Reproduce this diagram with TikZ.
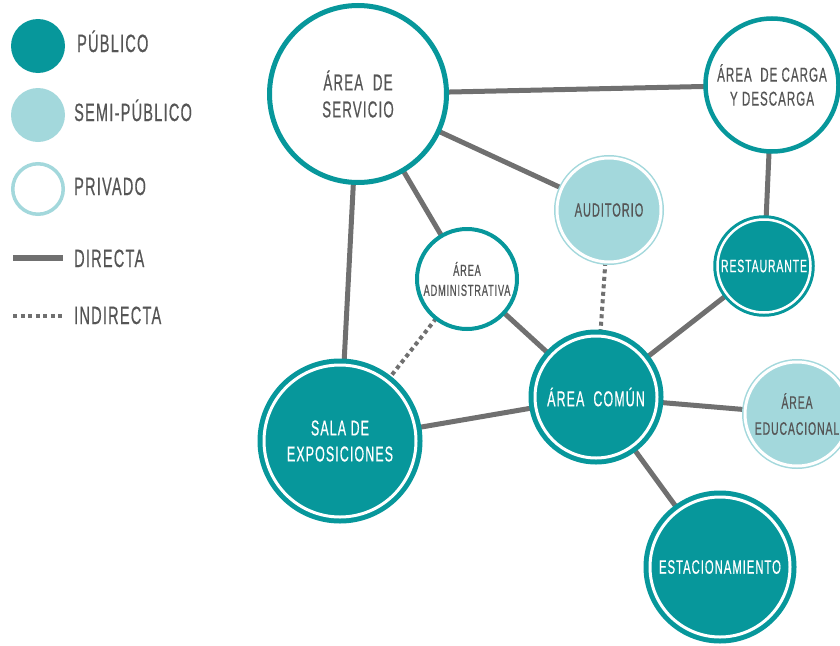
\documentclass[tikz,border=0pt]{standalone}
\usepackage{fontspec}
\newfontfamily\cond[FakeStretch=0.58,LetterSpace=5,FakeBold=0.5]{Liberation Sans}
\usetikzlibrary{backgrounds}
\definecolor{pub}{HTML}{07979B}
\definecolor{semi}{HTML}{A3D8DC}
\definecolor{edgegray}{HTML}{707070}
\definecolor{txtgray}{HTML}{555555}
\tikzset{
  base/.style={circle, inner sep=0pt, outer sep=0pt, align=center},
  pubnode/.style={base, fill=pub, draw=pub, double=white, double distance=3pt, line width=5pt, text=white},
  seminode/.style={base, fill=semi, draw=semi, double=white, double distance=3pt, line width=1.5pt, text=txtgray},
  privnode/.style={base, fill=white, draw=pub, line width=5pt, text=txtgray},
  fs/.style 2 args={font=\cond\fontsize{#1}{#2}\selectfont},
  direct/.style={draw=edgegray, line width=5pt},
  indirect/.style={draw=edgegray, line width=4pt, dash pattern=on 4pt off 3.5pt},
  legtext/.style={anchor=base west, text=txtgray, inner sep=0pt, font=\cond\fontsize{25}{28}\selectfont}
}
\begin{document}
\begin{tikzpicture}[x=1pt,y=-1pt]
\useasboundingbox (0,0) rectangle (840,645);
\clip (0,0) rectangle (840,645);

% legend
\node[base, fill=pub, minimum size=54pt] (lpub) at (38,46) {};
\node[base, fill=semi, minimum size=54pt] (lsemi) at (38,115) {};
\node[base, draw=semi, fill=white, line width=3.5pt, minimum size=50.5pt] (lpriv) at (38,189) {};
\node[legtext] (tpub) at (77,52) {PÚBLICO};
\node[legtext] (tsemi) at (74,121) {SEMI-PÚBLICO};
\node[legtext] (tpriv) at (74,195) {PRIVADO};
\node[legtext] (tdir) at (74,267) {DIRECTA};
\node[legtext] (tind) at (74,324) {INDIRECTA};
\coordinate (d1) at (13,258);
\coordinate (d2) at (63,258);
\coordinate (i1) at (13,316);
\coordinate (i2) at (63,316);
\draw[direct, line width=5.5pt] (d1) -- (d2);
\draw[indirect] (i1) -- (i2);

% nodes
\node[privnode, minimum size=177pt, fs={23}{27}] (serv) at (358,94) {ÁREA~~DE\\SERVICIO};
\node[privnode, minimum size=133pt, line width=4.5pt, fs={20}{24}] (carga) at (772,85) {ÁREA~~DE CARGA\\Y DESCARGA};
\node[privnode, minimum size=100pt, line width=4pt, fs={16}{20}] (admin) at (467,279) {ÁREA\\ADMINISTRATIVA};
\node[seminode, minimum size=104pt, fs={19}{22}] (audit) at (609,210) {AUDITORIO};
\node[seminode, minimum size=104pt, fs={18}{26}] (educ) at (797,414) {ÁREA\\EDUCACIONAL};
\node[pubnode, minimum size=93pt, line width=3pt, double distance=2.5pt, fs={18}{21}] (rest) at (764,266) {RESTAURANTE};
\node[pubnode, minimum size=122pt, fs={21.5}{24}] (comun) at (596,397) {ÁREA~~COMÚN};
\node[pubnode, minimum size=152pt, fs={21.5}{26}] (sala) at (340,441) {SALA DE\\EXPOSICIONES};
\node[pubnode, minimum size=140pt, fs={19.5}{22}] (estac) at (720,567) {ESTACIONAMIENTO};

% connectors
\begin{scope}[on background layer]
\draw[direct] (serv) -- (carga);
\draw[direct] (serv) -- (audit);
\draw[direct] (serv) -- (admin);
\draw[direct] (serv) -- (sala);
\draw[direct] (carga) -- (rest);
\draw[indirect] (audit) -- (comun);
\draw[direct] (admin) -- (comun);
\draw[indirect] (admin) -- (sala);
\draw[direct] (sala) -- (comun);
\draw[direct] (rest) -- (comun);
\draw[direct] (comun) -- (educ);
\draw[direct] (comun) -- (estac);
\end{scope}
\end{tikzpicture}
\end{document}
